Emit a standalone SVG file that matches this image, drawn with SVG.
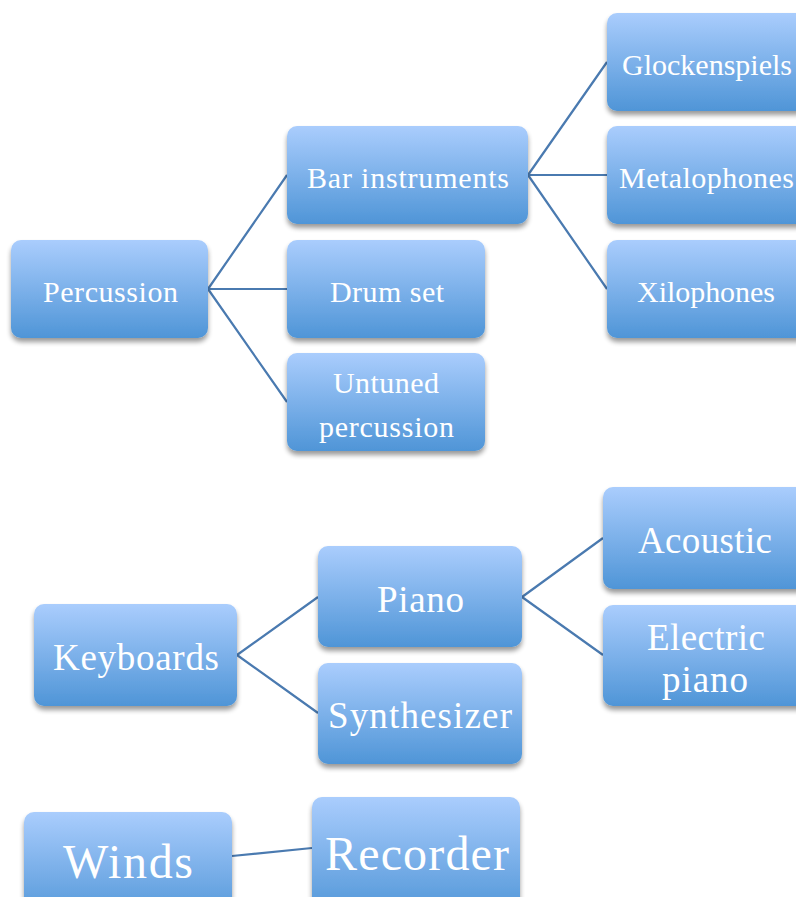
<svg xmlns="http://www.w3.org/2000/svg" width="796" height="897" viewBox="0 0 796 897">
<defs>
<linearGradient id="g" x1="0" y1="0" x2="0" y2="1">
<stop offset="0" stop-color="#aacdfd"/>
<stop offset="1" stop-color="#4f95d7"/>
</linearGradient>
<filter id="sh" x="-10%" y="-10%" width="120%" height="130%">
<feGaussianBlur in="SourceAlpha" stdDeviation="2.5"/>
<feOffset dx="0" dy="4" result="b"/>
<feComponentTransfer><feFuncA type="linear" slope="0.4"/></feComponentTransfer>
<feMerge><feMergeNode/><feMergeNode in="SourceGraphic"/></feMerge>
</filter>
</defs>
<style>
.n rect{fill:url(#g);filter:url(#sh)}
text{fill:#fff;font-family:"Liberation Serif","DejaVu Serif",serif}
.s{font-size:30px}
.m{font-size:37px}
.l{font-size:48px}
.c{fill:none;stroke:#4a7ab0;stroke-width:2.2}
</style>
<rect width="796" height="897" fill="#fff"/>
<g id="connectors" class="c">
<path d="M208 289 L287 175 M208 289 L287 289 M208 289 L287 402"/>
<path d="M528 175 L607 62 M528 175 L607 175 M528 175 L607 289"/>
<path d="M237 655 L318 597 M237 655 L318 713"/>
<path d="M522 597 L603 538 M522 597 L603 655"/>
<path d="M232 856 L312 848"/>
</g>
<g id="percussion" class="n"><rect x="11" y="240" width="197" height="98" rx="10"/><text class="s" x="43" y="302" textLength="135">Percussion</text></g>
<g id="bar" class="n"><rect x="287" y="126" width="241" height="98" rx="10"/><text class="s" x="307" y="188" textLength="202">Bar instruments</text></g>
<g id="drum" class="n"><rect x="287" y="240" width="198" height="98" rx="10"/><text class="s" x="330" y="302" textLength="114">Drum set</text></g>
<g id="untuned" class="n"><rect x="287" y="353" width="198" height="98" rx="10"/><text class="s" x="333" y="393" textLength="106">Untuned</text><text class="s" x="319" y="437" textLength="135">percussion</text></g>
<g id="glock" class="n"><rect x="607" y="13" width="200" height="98" rx="10"/><text class="s" x="622" y="75" textLength="170">Glockenspiels</text></g>
<g id="metal" class="n"><rect x="607" y="126" width="200" height="98" rx="10"/><text class="s" x="619" y="188" textLength="175">Metalophones</text></g>
<g id="xilo" class="n"><rect x="607" y="240" width="200" height="98" rx="10"/><text class="s" x="637" y="302" textLength="138">Xilophones</text></g>
<g id="keyboards" class="n"><rect x="34" y="604" width="203" height="102" rx="10"/><text class="m" x="53" y="670" textLength="166">Keyboards</text></g>
<g id="piano" class="n"><rect x="318" y="546" width="204" height="101" rx="10"/><text class="m" x="377" y="612" textLength="87">Piano</text></g>
<g id="synth" class="n"><rect x="318" y="663" width="204" height="101" rx="10"/><text class="m" x="328" y="728" textLength="184">Synthesizer</text></g>
<g id="acoustic" class="n"><rect x="603" y="487" width="210" height="102" rx="10"/><text class="m" x="638" y="553" textLength="134">Acoustic</text></g>
<g id="electric" class="n"><rect x="603" y="605" width="210" height="101" rx="10"/><text class="m" x="647" y="650" textLength="118">Electric</text><text class="m" x="662" y="692" textLength="86">piano</text></g>
<g id="winds" class="n"><rect x="24" y="812" width="208" height="110" rx="10"/><text class="l" x="63" y="878" textLength="130">Winds</text></g>
<g id="recorder" class="n"><rect x="312" y="797" width="208" height="120" rx="10"/><text class="l" x="325" y="870" textLength="184">Recorder</text></g>
</svg>
